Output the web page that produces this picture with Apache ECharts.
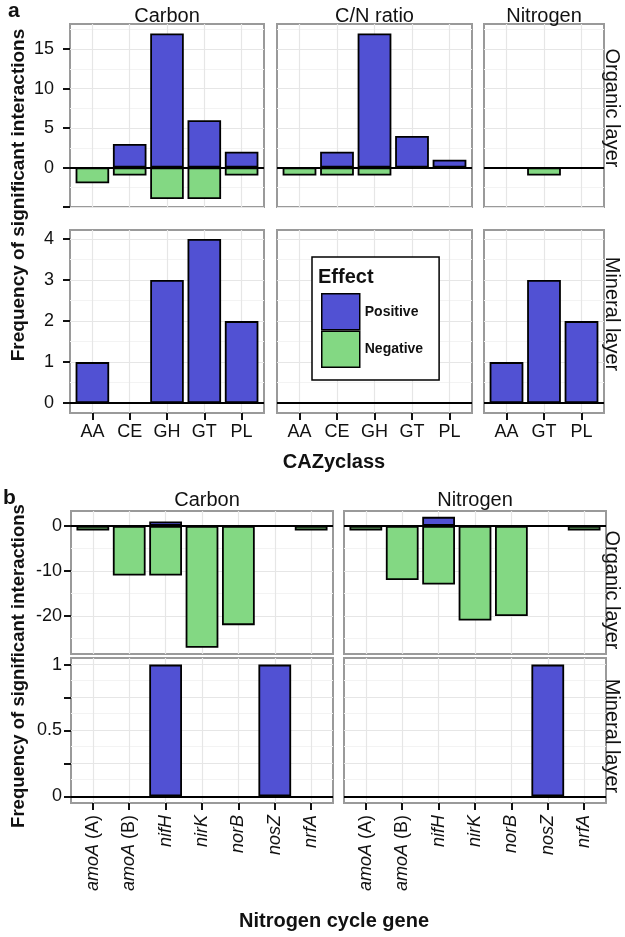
<!DOCTYPE html>
<html><head><meta charset="utf-8">
<script src="https://cdn.jsdelivr.net/npm/echarts@6/dist/echarts.min.js"></script>
<style>html,body{margin:0;padding:0;background:#fff}#c{width:625px;height:937px}</style>
</head><body><div id="c"></div>
<script>
// ================= DATA =================
// Panel a: CAZy classes
const cazyCarbon = ['AA','CE','GH','GT','PL'];
const cazyCN = ['AA','CE','GH','GT','PL'];
const cazyNitrogen = ['AA','GT','PL'];
// Organic layer
const aOrgCarbonPos = [0, 3, 17, 6, 2];
const aOrgCarbonNeg = [-2, -1, -4, -4, -1];
const aOrgCNPos = [0, 2, 17, 4, 1];
const aOrgCNNeg = [-1, -1, -1, 0, 0];
const aOrgNitrogenPos = [0, 0, 0];
const aOrgNitrogenNeg = [0, -1, 0];
// Mineral layer
const aMinCarbonPos = [1, 0, 3, 4, 2];
const aMinCarbonNeg = [0, 0, 0, 0, 0];
const aMinCNPos = [0, 0, 0, 0, 0];
const aMinCNNeg = [0, 0, 0, 0, 0];
const aMinNitrogenPos = [1, 3, 2];
const aMinNitrogenNeg = [0, 0, 0];
// Panel b: nitrogen cycle genes
const genes = ['amoA (A)','amoA (B)','nifH','nirK','norB','nosZ','nrfA'];
const bOrgCarbonPos = [0, 0, 1, 0, 0, 0, 0];
const bOrgCarbonNeg = [-1, -11, -11, -27, -22, 0, -1];
const bOrgNitrogenPos = [0, 0, 2, 0, 0, 0, 0];
const bOrgNitrogenNeg = [-1, -12, -13, -21, -20, 0, -1];
const bMinCarbonPos = [0, 0, 1, 0, 0, 1, 0];
const bMinCarbonNeg = [0, 0, 0, 0, 0, 0, 0];
const bMinNitrogenPos = [0, 0, 0, 0, 0, 1, 0];
const bMinNitrogenNeg = [0, 0, 0, 0, 0, 0, 0];
// tick values / labels
const aOrgTicks = [-5, 0, 5, 10, 15];
const aOrgTickLabels = ['', '0', '5', '10', '15'];
const aMinTicks = [0, 1, 2, 3, 4];
const aMinTickLabels = ['0', '1', '2', '3', '4'];
const bOrgTicks = [-20, -10, 0];
const bOrgTickLabels = ['-20', '-10', '0'];
const bMinTicks = [0, 0.25, 0.5, 0.75, 1];
const bMinTickLabels = ['0', '', '0.5', '', '1'];
const stripA = ['Carbon', 'C/N ratio', 'Nitrogen'];
const stripB = ['Carbon', 'Nitrogen'];
const rowNames = ['Organic layer', 'Mineral layer'];

// ================= STYLE / LAYOUT =================
const FONT = "'Liberation Sans', Arial, Helvetica, sans-serif";
const POS = '#5151D3', NEG = '#83D883';
const TXT = '#111';

const grids = [], xAxes = [], yAxes = [], series = [];

function geneLabel(g) {
  const m = g.match(/^(\S+)(\s.*)?$/);
  return '{i|' + m[1] + '}' + (m[2] ? '{n|' + m[2] + '}' : '');
}

function addPanel(p) {
  const gi = grids.length;
  const w = p.x1 - p.x0, h = p.y1 - p.y0;
  const n = p.cats.length;
  const idx = p.cats.map((_, i) => i);
  const band = w / (n + 0.2);
  grids.push({left: p.x0, top: p.y0, width: w, height: h, show: true,
    borderColor: '#9a9a9a', borderWidth: 2, backgroundColor: '#fff',
    containLabel: false, outerBoundsMode: 'none'});
  xAxes.push({gridIndex: gi, type: 'value', min: -0.6, max: n - 0.4, position: 'bottom',
    axisLine: {show: false, onZero: false}, splitLine: {show: false},
    axisTick: {show: p.showX, customValues: idx, length: 7, lineStyle: {color: TXT, width: 2}},
    axisLabel: {show: p.showX, customValues: idx, margin: p.xMargin || 9, rotate: p.rotX || 0,
      color: TXT, fontFamily: FONT, fontSize: 18, hideOverlap: false,
      formatter: v => p.fmtX(p.cats[Math.round(v)]),
      rich: {i: {fontStyle: 'italic', fontSize: 18, fontFamily: FONT, color: TXT},
             n: {fontSize: 18, fontFamily: FONT, color: TXT}}}});
  yAxes.push({gridIndex: gi, type: 'value', min: p.ymin, max: p.ymax, position: 'left',
    axisLine: {show: false, onZero: false}, splitLine: {show: false},
    axisTick: {show: p.showY, customValues: p.ticks, length: 7, lineStyle: {color: TXT, width: 2}},
    axisLabel: {show: p.showY, customValues: p.ticks, margin: p.yMargin, color: TXT,
      fontFamily: FONT, fontSize: 18, hideOverlap: false,
      formatter: v => { const k = p.ticks.findIndex(t => Math.abs(t - v) < 1e-9); return k >= 0 ? p.tickLabels[k] : ''; }}});
  // grid lines
  const step = p.ticks[1] - p.ticks[0];
  const minor = [];
  for (let v = p.ticks[0] - step / 2; v <= p.ymax + 1e-9; v += step) if (v >= p.ymin) minor.push(v);
  const gl = [];
  minor.forEach(v => gl.push({yAxis: v, lineStyle: {color: '#f3f3f3', width: 1, type: 'solid'}}));
  p.ticks.forEach(v => { if (v >= p.ymin && v <= p.ymax) gl.push({yAxis: v, lineStyle: {color: '#e6e6e6', width: 1.2, type: 'solid'}}); });
  idx.forEach(i => gl.push({xAxis: i, lineStyle: {color: '#e6e6e6', width: 1.2, type: 'solid'}}));
  series.push({type: 'line', xAxisIndex: gi, yAxisIndex: gi, data: [], silent: true, z: 1,
    markLine: {silent: true, symbol: 'none', z: 1, animation: false, label: {show: false}, data: gl}});
  const bw = 0.9 * band;
  const mk = (arr) => arr.map((v, i) => [i, v]).filter(d => d[1] !== 0);
  series.push({name: 'Positive', type: 'bar', xAxisIndex: gi, yAxisIndex: gi, barWidth: bw, barGap: '-100%',
    data: mk(p.pos), itemStyle: {color: POS, borderColor: '#000', borderWidth: 1.8}, z: 2});
  series.push({name: 'Negative', type: 'bar', xAxisIndex: gi, yAxisIndex: gi, barWidth: bw, barGap: '-100%',
    data: mk(p.neg), itemStyle: {color: NEG, borderColor: '#000', borderWidth: 1.8}, z: 2});
  series.push({type: 'line', xAxisIndex: gi, yAxisIndex: gi, data: [], silent: true, z: 5,
    markLine: {silent: true, symbol: 'none', z: 5, animation: false, label: {show: false},
      data: [{yAxis: 0, lineStyle: {color: '#000', width: 2.2, type: 'solid'}}]}});
}

// panel a
const aCols = [{x0: 70, x1: 264}, {x0: 277, x1: 472}, {x0: 484, x1: 604}];
const aCats = [cazyCarbon, cazyCN, cazyNitrogen];
const aRows = [
  {y0: 24, y1: 207, ymin: -5, ymax: 18.2, ticks: aOrgTicks, tickLabels: aOrgTickLabels,
   pos: [aOrgCarbonPos, aOrgCNPos, aOrgNitrogenPos], neg: [aOrgCarbonNeg, aOrgCNNeg, aOrgNitrogenNeg]},
  {y0: 230, y1: 413, ymin: -0.24, ymax: 4.22, ticks: aMinTicks, tickLabels: aMinTickLabels,
   pos: [aMinCarbonPos, aMinCNPos, aMinNitrogenPos], neg: [aMinCarbonNeg, aMinCNNeg, aMinNitrogenNeg]}
];
aRows.forEach((r, ri) => aCols.forEach((c, ci) => addPanel({
  x0: c.x0, x1: c.x1, y0: r.y0, y1: r.y1, ymin: r.ymin, ymax: r.ymax, ticks: r.ticks, tickLabels: r.tickLabels,
  cats: aCats[ci], pos: r.pos[ci], neg: r.neg[ci], showX: ri === 1, showY: ci === 0, yMargin: 16,
  xMargin: 10, fmtX: s => s})));

// panel b
const bCols = [{x0: 71, x1: 333}, {x0: 344, x1: 606}];
const bRows = [
  {y0: 511, y1: 654, ymin: -28.4, ymax: 3.3, ticks: bOrgTicks, tickLabels: bOrgTickLabels,
   pos: [bOrgCarbonPos, bOrgNitrogenPos], neg: [bOrgCarbonNeg, bOrgNitrogenNeg]},
  {y0: 658, y1: 803, ymin: -0.05, ymax: 1.05, ticks: bMinTicks, tickLabels: bMinTickLabels,
   pos: [bMinCarbonPos, bMinNitrogenPos], neg: [bMinCarbonNeg, bMinNitrogenNeg]}
];
bRows.forEach((r, ri) => bCols.forEach((c, ci) => addPanel({
  x0: c.x0, x1: c.x1, y0: r.y0, y1: r.y1, ymin: r.ymin, ymax: r.ymax, ticks: r.ticks, tickLabels: r.tickLabels,
  cats: genes, pos: r.pos[ci], neg: r.neg[ci], showX: ri === 1, showY: ci === 0, yMargin: 9,
  xMargin: 12, rotX: 90, fmtX: geneLabel})));

// texts
function txt(t, x, y, size, opts) {
  opts = opts || {};
  return {type: 'text', x: x, y: y, rotation: opts.rot || 0, z: 100, silent: true,
    style: {text: t, fill: TXT, font: (opts.bold ? 'bold ' : '') + size + 'px ' + FONT,
      align: opts.align || 'center', verticalAlign: opts.va || 'middle'}};
}
const graphics = [
  txt('a', 8, 11, 21, {bold: true, align: 'left'}),
  txt('b', 3, 498, 21, {bold: true, align: 'left'}),
  txt(stripA[0], 167, 16, 20), txt(stripA[1], 374.5, 16, 20), txt(stripA[2], 544, 16, 20),
  txt(stripB[0], 207, 500, 20), txt(stripB[1], 475, 500, 20),
  txt(rowNames[0], 612, 108, 20, {rot: -Math.PI / 2}),
  txt(rowNames[1], 612, 314, 20, {rot: -Math.PI / 2}),
  txt(rowNames[0], 612, 590, 20, {rot: -Math.PI / 2}),
  txt(rowNames[1], 612, 736, 20, {rot: -Math.PI / 2}),
  txt('Frequency of significant interactions', 19, 195, 19, {bold: true, rot: Math.PI / 2}),
  txt('Frequency of significant interactions', 19, 666, 18.5, {bold: true, rot: Math.PI / 2}),
  txt('CAZyclass', 334, 462, 20, {bold: true}),
  txt('Nitrogen cycle gene', 334, 921, 20, {bold: true}),
  txt('Effect', 318, 277, 20, {bold: true, align: 'left'})
];

const chart = echarts.init(document.getElementById('c'), null, {renderer: 'canvas'});
chart.setOption({
  animation: false,
  backgroundColor: '#fff',
  grid: grids, xAxis: xAxes, yAxis: yAxes, series: series,
  legend: {data: ['Positive', 'Negative'], orient: 'vertical', left: 312, top: 257,
    padding: [36, 16, 12, 9], itemWidth: 38, itemHeight: 36, itemGap: 0,
    backgroundColor: '#fff', borderColor: '#000', borderWidth: 1.5, borderRadius: 0,
    icon: 'rect', selectedMode: false, z: 50,
    itemStyle: {borderColor: '#000', borderWidth: 1.5},
    textStyle: {fontSize: 14, fontWeight: 'bold', color: TXT, fontFamily: FONT}},
  graphic: graphics
});
</script></body></html>
